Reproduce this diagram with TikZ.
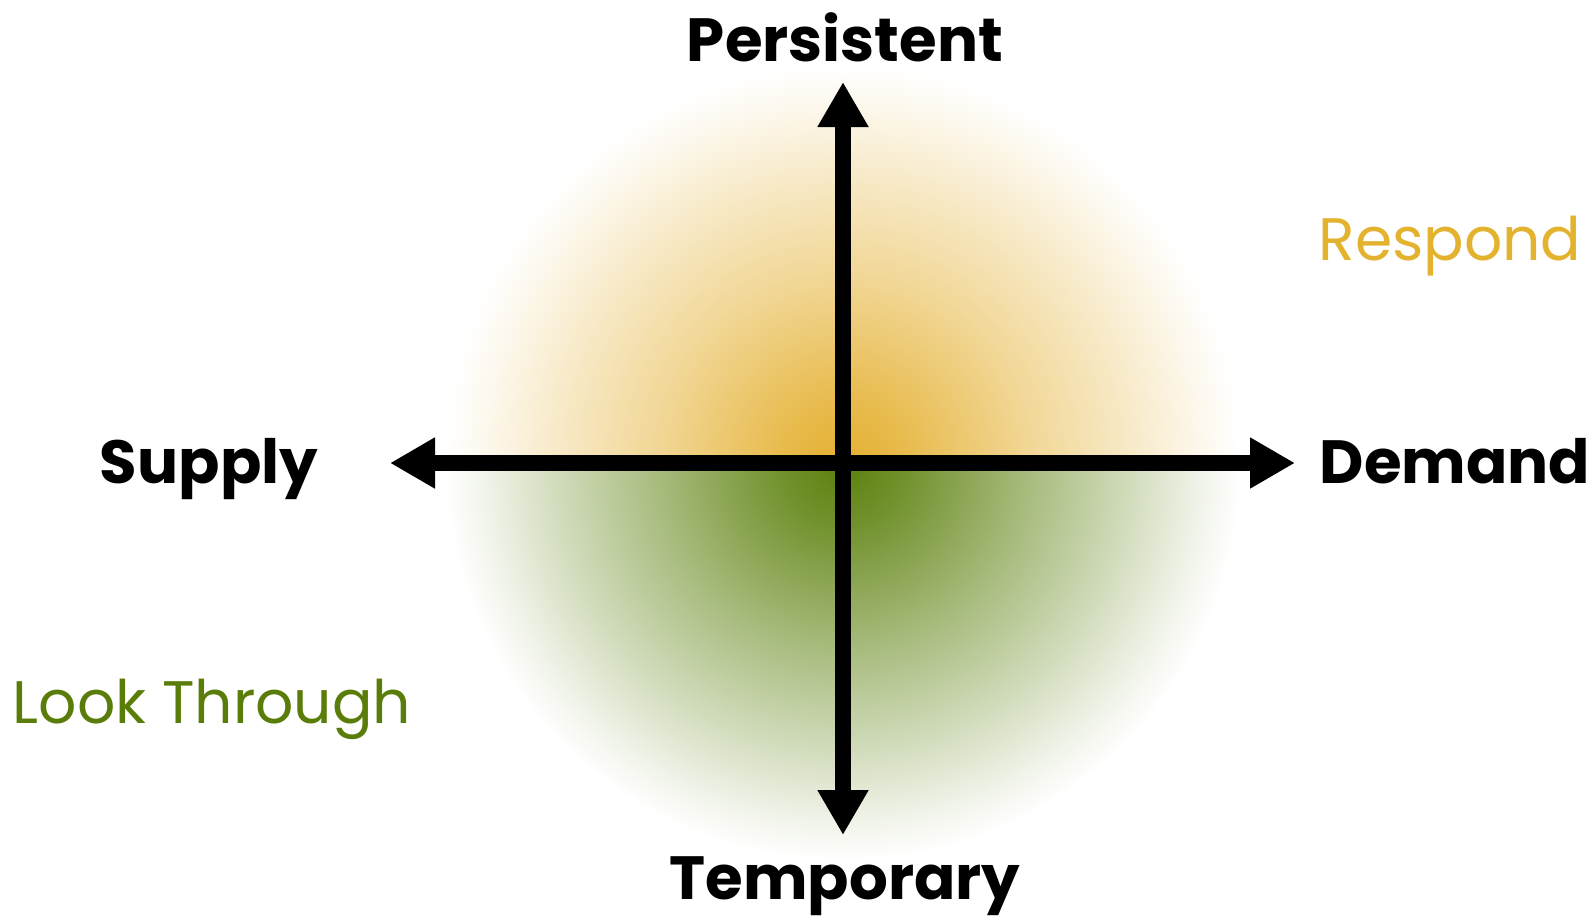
\documentclass[tikz,border=0pt]{standalone}
\usepackage{fontspec}
\setmainfont{Poppins}
\usetikzlibrary{arrows.meta}
\definecolor{orc}{HTML}{E4B031}
\definecolor{grc}{HTML}{5B800C}
\definecolor{orText}{HTML}{E3B22E}
\definecolor{grText}{HTML}{5A7D0A}
\pgfdeclareradialshading{orangefade}{\pgfpointorigin}{color(0bp)=(orc); color(4bp)=(orc!86!white); color(12bp)=(orc!50!white); color(17.5bp)=(orc!29!white); color(22.5bp)=(orc!9!white); color(25bp)=(white); color(50bp)=(white)}
\pgfdeclareradialshading{greenfade}{\pgfpointorigin}{color(0bp)=(grc); color(4bp)=(grc!86!white); color(12bp)=(grc!52!white); color(17.5bp)=(grc!30!white); color(22.5bp)=(grc!9!white); color(25bp)=(white); color(50bp)=(white)}
\tikzset{
  axis/.style={line width=16pt, {Triangle[length=45pt,width=48pt]}-{Triangle[length=45pt,width=48pt]}},
  bold label/.style={font=\fontsize{61}{61}\selectfont\bfseries, text=black, inner sep=0pt},
  thin label/.style={font=\fontsize{60}{60}\selectfont, inner sep=0pt}
}
\begin{document}
\begin{tikzpicture}[x=1pt,y=-1pt]
\useasboundingbox (0,0) rectangle (1596,918);
\coordinate (C) at (843,463);
\begin{scope}
  \clip (440,60) rectangle (1250,463);
  \shade[shading=orangefade] (C) circle (398pt);
\end{scope}
\begin{scope}
  \clip (440,463) rectangle (1250,870);
  \shade[shading=greenfade] (C) circle (398pt);
\end{scope}
\coordinate (top) at (843,82);
\coordinate (bot) at (843,835);
\coordinate (left) at (390,463);
\coordinate (right) at (1295,463);
\draw[axis] (left) -- (right);
\draw[axis] (bot) -- (top);
\node[bold label, anchor=base] (persistent) at (845,61) {Persistent};
\node[bold label, anchor=base] (temporary) at (845,899) {Temporary};
\node[bold label, anchor=base] (supply) at (209,483) {Supply};
\node[bold label, anchor=base] (demand) at (1455,483) {Demand};
\node[thin label, anchor=base, text=orText] (respond) at (1450,260) {Respond};
\node[thin label, anchor=base, text=grText] (look) at (212,723) {Look Through};
\end{tikzpicture}
\end{document}
